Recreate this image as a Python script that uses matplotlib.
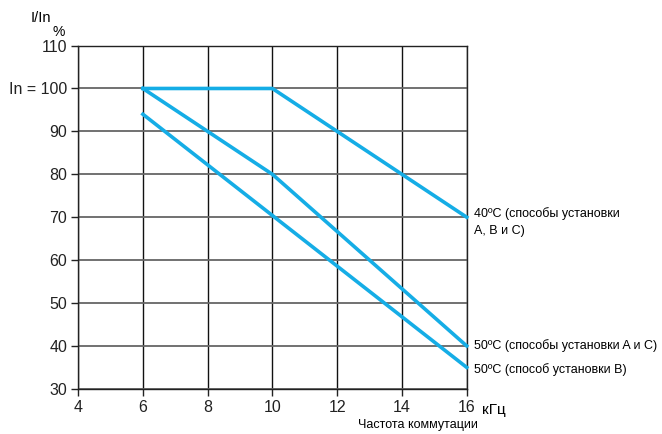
import matplotlib.pyplot as plt

plt.rcParams['font.family'] = ['Liberation Sans', 'DejaVu Sans']

# switching frequency, kHz
f_40 = [6, 10, 16]
i_40 = [100, 100, 70]
f_50ac = [6, 10, 16]
i_50ac = [100, 80, 40]
f_50b = [6, 16]
i_50b = [94, 35]

xticks = [4, 6, 8, 10, 12, 14, 16]
yticks = [30, 40, 50, 60, 70, 80, 90, 100, 110]
ylabels = ["30", "40", "50", "60", "70", "80", "90", "In = 100", "110"]

blue = "#15ade6"
narrow = ['Liberation Sans Narrow', 'Liberation Sans', 'DejaVu Sans']

fig = plt.figure(figsize=(6.62, 4.34), dpi=100)
ax = fig.add_axes([0.118, 0.104, 0.587, 0.791])

ax.set_xlim(4, 16)
ax.set_ylim(30, 110)
ax.set_xticks(xticks)
ax.set_yticks(yticks)
ax.set_yticklabels(ylabels)
ax.tick_params(axis='both', direction='out', length=5, width=1, labelsize=11.5, colors='#222222')
ax.tick_params(axis='x', pad=3)
ax.tick_params(axis='y', pad=3)

for x in xticks:
    ax.axvline(x, color='#111111', lw=1, zorder=1)
for y in yticks:
    ax.axhline(y, color='#666666', lw=1.3, zorder=1)
for s in ax.spines.values():
    s.set_color('#222222')
    s.set_linewidth(1)

ax.plot(f_40, i_40, color=blue, lw=2.6, zorder=3, clip_on=False)
ax.plot(f_50ac, i_50ac, color=blue, lw=2.6, zorder=3, clip_on=False)
ax.plot(f_50b, i_50b, color=blue, lw=2.6, zorder=3, clip_on=False)

ax.annotate("40ºC (способы установки\nA, B и C)", xy=(16, 70), xytext=(5, 7),
            textcoords='offset points', ha='left', va='top', fontsize=9,
            family=narrow, linespacing=1.5, annotation_clip=False)
ax.annotate("50ºC (способы установки A и C)", xy=(16, 40), xytext=(5, 0),
            textcoords='offset points', ha='left', va='center', fontsize=9,
            family=narrow, annotation_clip=False)
ax.annotate("50ºC (способ установки B)", xy=(16, 34.5), xytext=(5, 0),
            textcoords='offset points', ha='left', va='center', fontsize=9,
            family=narrow, annotation_clip=False)

ax.annotate("кГц", xy=(16, 0), xycoords=('data', 'axes fraction'), xytext=(11, -15),
            textcoords='offset points', ha='left', va='center', fontsize=11,
            annotation_clip=False)
fig.text(0.541, 0.02, "Частота коммутации", ha='left', va='center', fontsize=9, family=narrow)
fig.text(0.062, 0.958, "I/In", ha='center', va='center', fontsize=10.5, family=narrow)
fig.text(0.088, 0.927, "%", ha='center', va='center', fontsize=10)

fig.savefig("out.png", dpi=100)
